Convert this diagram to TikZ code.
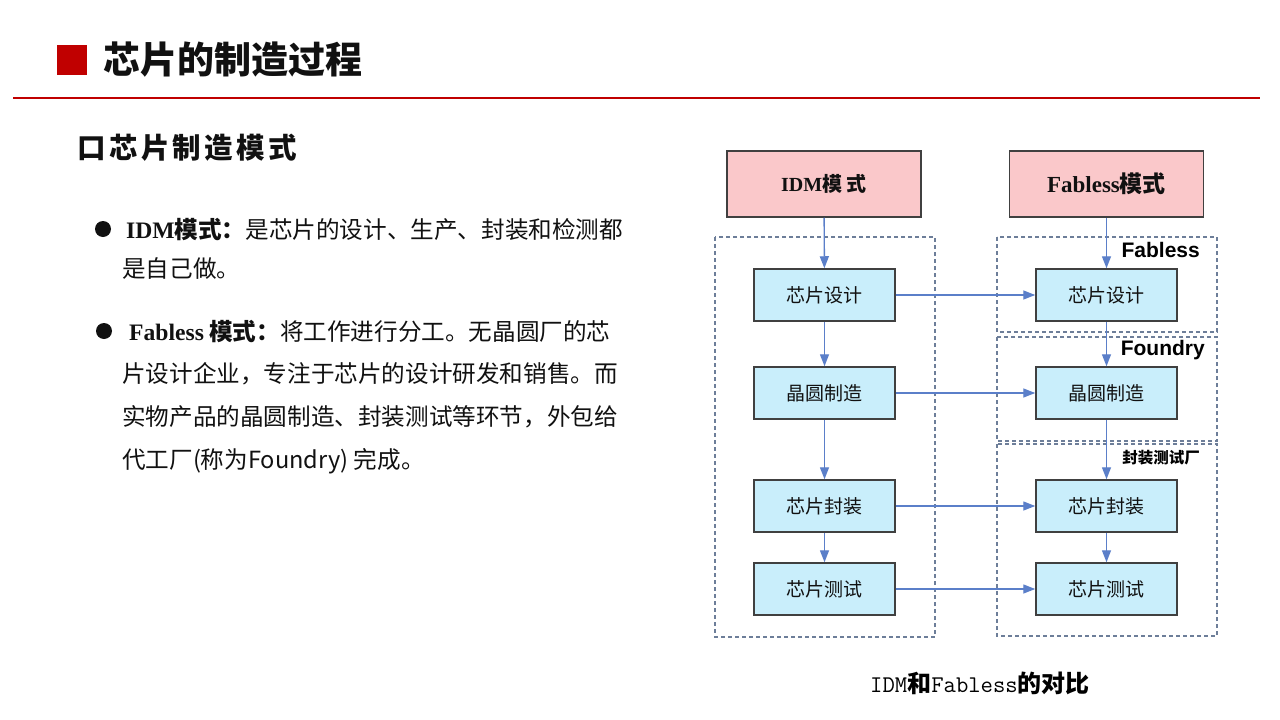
\documentclass[tikz,border=0pt]{standalone}
\usepackage{fontspec}
\setmainfont{Liberation Serif}
\setsansfont{Liberation Sans}
\newfontfamily\cjk{Noto Sans CJK SC}
\newfontfamily\cjkls{Noto Sans CJK SC}[LetterSpace=12]
\usetikzlibrary{arrows.meta}
\definecolor{titlered}{HTML}{C00000}
\definecolor{pinkfill}{HTML}{FAC8CA}
\definecolor{cyanfill}{HTML}{C9EEFB}
\definecolor{arrowblue}{HTML}{5B7FC9}
\definecolor{dashgray}{HTML}{6D7E99}
\definecolor{boxborder}{HTML}{404040}
\definecolor{inkblack}{HTML}{111111}
\tikzset{
  modebox/.style={draw=boxborder, line width=1.5pt, fill=pinkfill, minimum width=194pt, minimum height=66pt, inner sep=0pt, text=inkblack},
  stepbox/.style={draw=boxborder, line width=1.5pt, fill=cyanfill, minimum width=141pt, minimum height=52pt, inner sep=0pt, font=\cjk\fontsize{19}{22}\selectfont, text=inkblack},
  flow/.style={draw=arrowblue, line width=1.4pt, -{Triangle[length=12pt,width=9pt]}},
  group/.style={draw=dashgray, line width=1.5pt, dash pattern=on 4pt off 3pt},
  bodytext/.style={anchor=west, inner sep=0pt, text=inkblack, font=\cjk\fontsize{23.6}{28}\selectfont},
  grouplabel/.style={anchor=east, inner sep=0pt, text=black, font=\sffamily\bfseries\fontsize{21}{24}\selectfont},
}
\begin{document}
\begin{tikzpicture}[x=1pt,y=-1pt]
\useasboundingbox[fill=white] (0,0) rectangle (1280,720);

% title bar
\fill[titlered] (57,45) rectangle (87,75);
\node[anchor=west, inner sep=0pt, text=inkblack, font=\cjk\bfseries\fontsize{37}{40}\selectfont] (title) at (103,60) {芯片的制造过程};
\draw[titlered, line width=2pt] (13,98) -- (1260,98);

% left text
\node[anchor=west, inner sep=0pt, text=inkblack, font=\cjkls\bfseries\fontsize{28.5}{32}\selectfont] (heading) at (77,148) {口芯片制造模式};

\fill[inkblack] (103,229) circle (8);
\node[bodytext] (b1l1) at (126,229) {{\rmfamily\bfseries IDM}{\bfseries 模式：}是芯片的设计、生产、封装和检测都};
\node[bodytext] (b1l2) at (122,269) {是自己做。};

\fill[inkblack] (104,331) circle (8);
\node[bodytext] (b2l1) at (129,331) {{\rmfamily\bfseries Fabless} {\bfseries 模式：}将工作进行分工。无晶圆厂的芯};
\node[bodytext] (b2l2) at (122,374) {片设计企业，专注于芯片的设计研发和销售。而};
\node[bodytext] (b2l3) at (122,417) {实物产品的晶圆制造、封装测试等环节，外包给};
\node[bodytext] (b2l4) at (122,461) {代工厂(称为Foundry) 完成。};

% diagram groups
\draw[group] (715,237) rectangle (935,637);
\draw[group] (997,237) rectangle (1217,332);
\draw[group] (997,337) rectangle (1217,441);
\draw[group] (997,444) rectangle (1217,636);

% mode boxes
\node[modebox] (idm) at (824,184) {{\rmfamily\bfseries\fontsize{20}{24}\selectfont IDM}{\cjk\bfseries\fontsize{20}{24}\selectfont 模 式}};
\node[modebox] (fab) at (1106.5,184) {{\rmfamily\bfseries\fontsize{23}{26}\selectfont Fabless}{\cjk\bfseries\fontsize{23}{26}\selectfont 模式}};

% step boxes
\node[stepbox] (l1) at (824.5,295) {芯片设计};
\node[stepbox] (l2) at (824.5,393) {晶圆制造};
\node[stepbox] (l3) at (824.5,506) {芯片封装};
\node[stepbox] (l4) at (824.5,589) {芯片测试};
\node[stepbox] (r1) at (1106.5,295) {芯片设计};
\node[stepbox] (r2) at (1106.5,393) {晶圆制造};
\node[stepbox] (r3) at (1106.5,506) {芯片封装};
\node[stepbox] (r4) at (1106.5,589) {芯片测试};

% group labels
\node[grouplabel] (lfab) at (1200,250) {Fabless};
\node[grouplabel] (lfou) at (1205,350) {Foundry};
\node[anchor=east, inner sep=0pt, text=black, font=\cjk\bfseries\fontsize{15.5}{18}\selectfont] (lpkg) at (1200,458) {封装测试厂};

% arrows
\draw[flow] (idm) -- (l1);
\draw[flow] (l1) -- (l2);
\draw[flow] (l2) -- (l3);
\draw[flow] (l3) -- (l4);
\draw[flow] (fab) -- (r1);
\draw[flow] (r1) -- (r2);
\draw[flow] (r2) -- (r3);
\draw[flow] (r3) -- (r4);
\draw[flow] (l1) -- (r1);
\draw[flow] (l2) -- (r2);
\draw[flow] (l3) -- (r3);
\draw[flow] (l4) -- (r4);

% caption
\node[inner sep=0pt, text=black] (cap) at (980,683) {\fontsize{24}{28}\selectfont\ttfamily\addfontfeature{FakeBold=1.5}IDM{\cjk\bfseries 和}Fabless{\cjk\bfseries 的对比}};
\end{tikzpicture}
\end{document}
